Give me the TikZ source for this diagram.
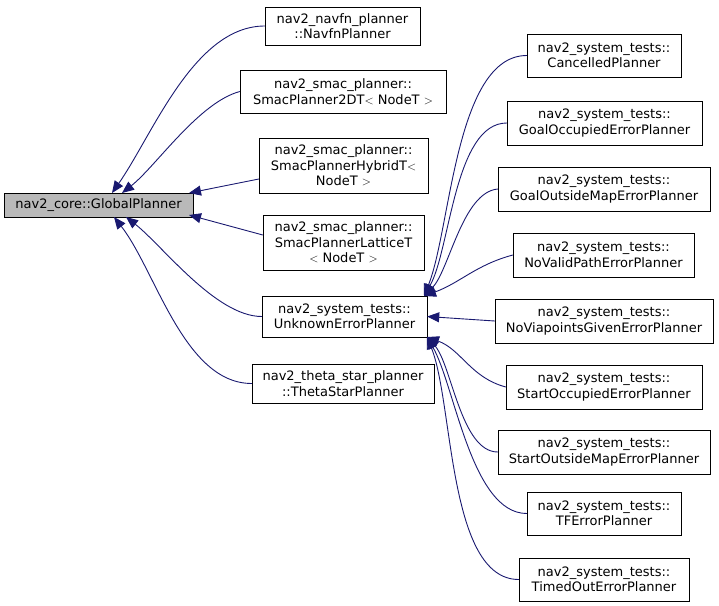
\documentclass[tikz,border=0pt]{standalone}
\usepackage{fontspec}
\setmainfont{DejaVu Sans}
\usetikzlibrary{arrows.meta}
\definecolor{edgec}{HTML}{191970}
\tikzset{
 cls/.style={draw=black,fill=white,align=center,inner sep=1pt,font=\fontsize{13}{15.5}\selectfont,minimum height=#1},
 cls/.default=40pt,
 edge/.style={draw=edgec,line width=0.9pt,{Triangle[length=12pt,width=10pt,fill=edgec]}-}
}
\begin{document}
\begin{tikzpicture}[x=1pt,y=-1pt]
\useasboundingbox (0,0) rectangle (719,605);
\node[cls=24pt,fill=gray!55,minimum width=189pt] (base) at (98.5,205) {nav2\_core::GlobalPlanner};
\node[cls=38pt,minimum width=155pt] (navfn) at (342.5,26) {nav2\_navfn\_planner\\::NavfnPlanner};
\node[cls=43pt,minimum width=206pt] (s2d) at (343,91.5) {nav2\_smac\_planner::\\SmacPlanner2DT$<$ NodeT $>$};
\node[cls=55pt,minimum width=169pt] (hyb) at (343.5,165.5) {nav2\_smac\_planner::\\SmacPlannerHybridT$<$\\NodeT $>$};
\node[cls=55pt,minimum width=161pt] (lat) at (343.5,242.5) {nav2\_smac\_planner::\\SmacPlannerLatticeT\\$<$ NodeT $>$};
\node[cls=41pt,minimum width=165pt] (unk) at (344.5,316.5) {nav2\_system\_tests::\\UnknownErrorPlanner};
\node[cls=39pt,minimum width=182pt] (theta) at (343,383.5) {nav2\_theta\_star\_planner\\::ThetaStarPlanner};
\node[cls=43pt,minimum width=154pt] (c1) at (604,55.5) {nav2\_system\_tests::\\CancelledPlanner};
\node[cls=44pt,minimum width=195pt] (c2) at (604.5,123) {nav2\_system\_tests::\\GoalOccupiedErrorPlanner};
\node[cls=44pt,minimum width=212pt] (c3) at (604,189) {nav2\_system\_tests::\\GoalOutsideMapErrorPlanner};
\node[cls=44pt,minimum width=181pt] (c4) at (603.5,255) {nav2\_system\_tests::\\NoValidPathErrorPlanner};
\node[cls=44pt,minimum width=218pt] (c5) at (604,321) {nav2\_system\_tests::\\NoViapointsGivenErrorPlanner};
\node[cls=44pt,minimum width=196pt] (c6) at (604,387) {nav2\_system\_tests::\\StartOccupiedErrorPlanner};
\node[cls=44pt,minimum width=212pt] (c7) at (604,452) {nav2\_system\_tests::\\StartOutsideMapErrorPlanner};
\node[cls=43pt,minimum width=154pt] (c8) at (604,513.5) {nav2\_system\_tests::\\TFErrorPlanner};
\node[cls=43pt,minimum width=170pt] (c9) at (604,579.5) {nav2\_system\_tests::\\TimedOutErrorPlanner};
\coordinate (b1) at (112,193);
\coordinate (b2) at (122,193);
\coordinate (b3) at (189,193);
\coordinate (b4) at (189,215);
\coordinate (b5) at (126,217);
\coordinate (b6) at (114,217);
\draw[edge] (b1) to[out=55,in=180,looseness=0.8] (navfn.west);
\draw[edge] (b2) to[out=38,in=195,looseness=0.7] (s2d.west);
\draw[edge] (b3) -- (hyb.west|-0,179);
\draw[edge] (b4) -- (lat.west|-0,235);
\draw[edge] (b5) to[out=-38,in=180,looseness=0.7] (unk.west);
\draw[edge] (b6) to[out=-52,in=180,looseness=0.8] (theta.west);
\coordinate (u1) at (424,296);
\coordinate (u2) at (427,337);
\draw[edge] (u1) to[out=68,in=180,looseness=0.7] (c1.west);
\draw[edge] (u1) to[out=60,in=180,looseness=0.7] (c2.west);
\draw[edge] (u1) to[out=45,in=185,looseness=0.7] (c3.west);
\draw[edge] (u1) to[out=20,in=195] (c4.west);
\draw[edge] (unk.east) -- (c5.west);
\draw[edge] (u2) to[out=-20,in=165] (c6.west);
\draw[edge] (u2) to[out=-48,in=180,looseness=0.7] (c7.west);
\draw[edge] (u2) to[out=-60,in=180,looseness=0.7] (c8.west);
\draw[edge] (u2) to[out=-68,in=180,looseness=0.7] (c9.west);
\end{tikzpicture}
\end{document}
